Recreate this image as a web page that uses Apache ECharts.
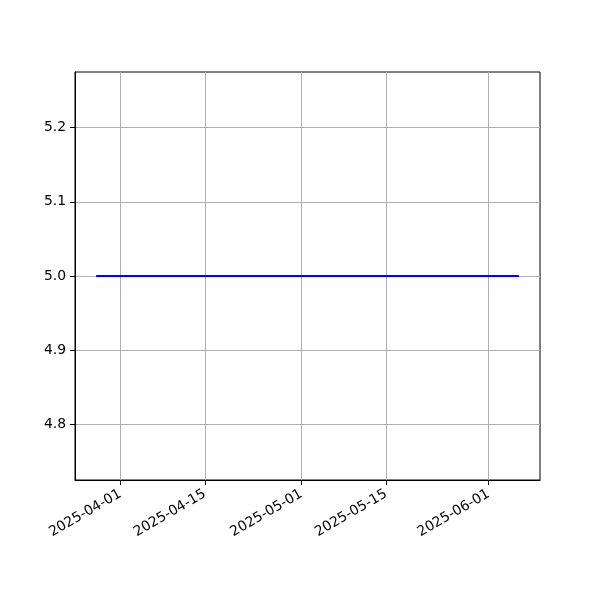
<!DOCTYPE html>
<html>
<head>
<meta charset="utf-8">
<script src="https://cdn.jsdelivr.net/npm/echarts@6/dist/echarts.min.js"></script>
<style>html,body{margin:0;padding:0;background:#fff}#c{width:600px;height:600px}</style>
</head>
<body>
<div id="c"></div>
<script>
// Data
var dates = ['2025-03-28','2025-04-04','2025-04-11','2025-04-18','2025-04-25','2025-05-02','2025-05-09','2025-05-16','2025-05-23','2025-05-30','2025-06-06'];
var values = [5.0,5.0,5.0,5.0,5.0,5.0,5.0,5.0,5.0,5.0,5.0];
var xTickLabels = ['2025-04-01','2025-04-15','2025-05-01','2025-05-15','2025-06-01'];
var yTickLabels = [4.8,4.9,5.0,5.1,5.2];
var xRange = ['2025-03-24T12:00:00Z','2025-06-09T12:00:00Z'];
var yRange = [4.725,5.275];

function ts(s){ return s.length > 10 ? Date.parse(s) : Date.parse(s + 'T00:00:00Z'); }
function pad(n){ return (n<10?'0':'')+n; }
function fmt(v){ var d=new Date(v); return d.getUTCFullYear()+'-'+pad(d.getUTCMonth()+1)+'-'+pad(d.getUTCDate()); }

var xTicks = xTickLabels.map(ts);
var chart = echarts.init(document.getElementById('c'), null, {renderer:'canvas'});
var font = 'DejaVu Sans';
chart.setOption({
  animation:false,
  grid:{left:75,right:60,top:72,bottom:120,show:true,borderColor:'#000',borderWidth:1,backgroundColor:'transparent'},
  xAxis:{
    type:'value', min:ts(xRange[0]), max:ts(xRange[1]),
    axisLine:{show:true,lineStyle:{color:'#000',width:1}},
    axisTick:{show:true,inside:false,length:5,lineStyle:{color:'#000',width:1},customValues:xTicks},
    axisLabel:{customValues:xTicks,rotate:30,margin:13,color:'#000',fontFamily:font,fontSize:13.9,formatter:function(v){return fmt(v);}},
    splitLine:{show:true,lineStyle:{color:'#b0b0b0',width:1}}
  },
  yAxis:{
    type:'value', min:yRange[0], max:yRange[1],
    axisLine:{show:true,lineStyle:{color:'#000',width:1}},
    axisTick:{show:true,length:5,lineStyle:{color:'#000',width:1},customValues:yTickLabels},
    axisLabel:{customValues:yTickLabels,margin:9,color:'#000',fontFamily:font,fontSize:13.9,formatter:function(v){return v.toFixed(1);}},
    splitLine:{show:true,lineStyle:{color:'#b0b0b0',width:1}}
  },
  series:[{
    type:'line', showSymbol:false, symbol:'none',
    data: dates.map(function(d,i){return [ts(d), values[i]];}),
    lineStyle:{color:'#0000ff',width:2}, z:5
  }]
});
</script>
</body>
</html>
